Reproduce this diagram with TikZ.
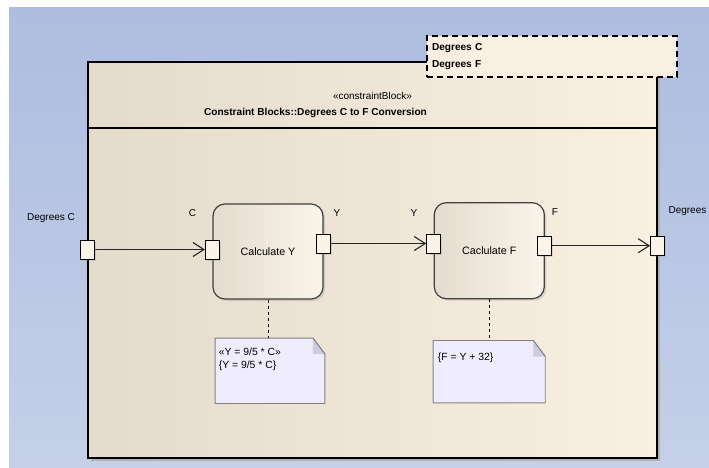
\documentclass[tikz,border=0pt]{standalone}
\usepackage{fontspec}
\setmainfont{Liberation Sans}
\usetikzlibrary{arrows.meta,shadows}

\definecolor{bgtop}{RGB}{173,189,224}
\definecolor{bgbot}{RGB}{197,208,232}
\definecolor{frameleft}{RGB}{227,219,204}
\definecolor{frameright}{RGB}{250,240,226}
\definecolor{blockleft}{RGB}{228,220,206}
\definecolor{blockright}{RGB}{250,244,234}
\definecolor{portfill}{RGB}{250,243,232}
\definecolor{notefill}{RGB}{239,237,253}
\definecolor{foldfill}{RGB}{205,205,224}
\definecolor{notedraw}{RGB}{128,128,128}

\begin{document}
\begin{tikzpicture}[x=1pt,y=-1pt,>={Straight Barb[length=11pt,width=14pt]},
                    font=\fontsize{10}{12}\selectfont]

  \tikzstyle{frame}=[rectangle,draw,line width=1.3pt,inner sep=0pt,
                     left color=frameleft,middle color=frameright,right color=frameright,
                     minimum width=569pt,minimum height=396pt,
                     drop shadow={shadow xshift=3pt,shadow yshift=-3pt,fill=black!30,opacity=1}]
  \tikzstyle{block}=[rectangle,rounded corners=12pt,draw=black!75,line width=1.2pt,
                     left color=blockleft,right color=blockright,minimum width=110pt,
                     font=\fontsize{10.7}{12}\selectfont,
                     drop shadow={shadow xshift=2pt,shadow yshift=-2pt,opacity=0.25}]
  \tikzstyle{port}=[rectangle,draw,line width=0.9pt,fill=portfill,inner sep=0pt,
                    minimum width=14pt,minimum height=19pt,
                    drop shadow={shadow xshift=1.5pt,shadow yshift=-1.5pt,opacity=0.2}]
  \tikzstyle{note}=[rectangle,inner sep=0pt]
  \tikzstyle{notetext}=[anchor=north west,inner sep=0pt,align=left,
                        font=\fontsize{10.4}{13.3}\selectfont]
  \tikzstyle{conn}=[->,line width=1.1pt,draw=black!85]

  % background
  \useasboundingbox (0,0) rectangle (709,467);
  \fill[white] (0,0) rectangle (709,467);
  \fill[top color=bgtop,bottom color=bgbot] (9,7) rectangle (709,467);

  % constraint block frame
  \node[frame] (FR) at (372.5,260) {};
  \draw[line width=1.3pt] (FR.west |- 0,128) -- (FR.east |- 0,128);
  \node (ST) at (372.5,96) {«constraintBlock»};
  \node[font=\fontsize{10.1}{12}\selectfont\bfseries] (TT) at (315.5,113)
       {Constraint Blocks::Degrees C to F Conversion};

  \node[rectangle,draw,dash pattern=on 6pt off 4pt,line width=1.2pt,fill=frameright,
        minimum width=250pt,minimum height=41pt,text width=240pt,inner xsep=5pt,
        align=left,font=\fontsize{10.1}{17}\selectfont\bfseries] (PB) at (552,56.5)
       {Degrees C\\Degrees F};

  % parts
  \node[block,minimum height=95pt] (CY) at (268,251.5)   {Calculate Y};
  \node[block,minimum height=96pt] (CF) at (489.3,250.7) {Caclulate F};

  \node[port] (CYin)  at ([yshift=2pt]CY.west) {};
  \node[port] (CYout) at ([yshift=8pt]CY.east) {};
  \node[port] (CFin)  at (CF.west |- CYout)    {};
  \node[port] (CFout) at ([yshift=5pt]CF.east) {};
  \node[port] (FRin)  at (FR.west |- CYin)     {};
  \node[port] (FRout) at (FR.east |- CFout)    {};

  \node (DC)  at (51,218)    {Degrees C};
  \node[anchor=west] (DF) at (665,211) {Degrees F};
  \node (LC)  at (192.5,213) {C};
  \node (LY1) at (337,213)   {Y};
  \node (LY2) at (414,213)   {Y};
  \node (LF)  at (555,212)   {F};

  \path[conn]
  (FRin)  edge (CYin)
  (CYout) edge (CFin)
  (CFout) edge (FRout)
  ;

  % constraint notes
  \node[note,minimum width=109.4pt,minimum height=65pt] (NY) at (270,370.8) {};
  \node[note,minimum width=111.7pt,minimum height=62pt] (NF) at (489.2,371.7) {};
  \foreach \n in {NY,NF} {
    \filldraw[draw=notedraw,fill=notefill,line width=0.9pt]
      (\n.north west) -- ([xshift=-12pt]\n.north east) -- ([yshift=-16pt]\n.north east)
      -- (\n.south east) -- (\n.south west) -- cycle;
    \fill[foldfill] ([xshift=-12pt]\n.north east) -- ([yshift=-16pt]\n.north east)
      -- ([xshift=-12pt,yshift=-16pt]\n.north east) -- cycle;
    \draw[notedraw,line width=0.9pt] ([xshift=-12pt]\n.north east) -- ([yshift=-16pt]\n.north east);
  }
  \node[notetext] (NYt) at ([xshift=3.5pt,yshift=-9.5pt]NY.north west)
       {«Y = 9/5 * C»\\\{Y = 9/5 * C\}};
  \node[notetext] (NFt) at ([xshift=4.5pt,yshift=-12pt]NF.north west)
       {\{F = Y + 32\}};

  \draw[dash pattern=on 3pt off 3pt,line width=0.8pt] (CY.south) -- (CY.south |- NY.north);
  \draw[dash pattern=on 3pt off 3pt,line width=0.8pt] (CF.south) -- (CF.south |- NF.north);
\end{tikzpicture}
\end{document}
